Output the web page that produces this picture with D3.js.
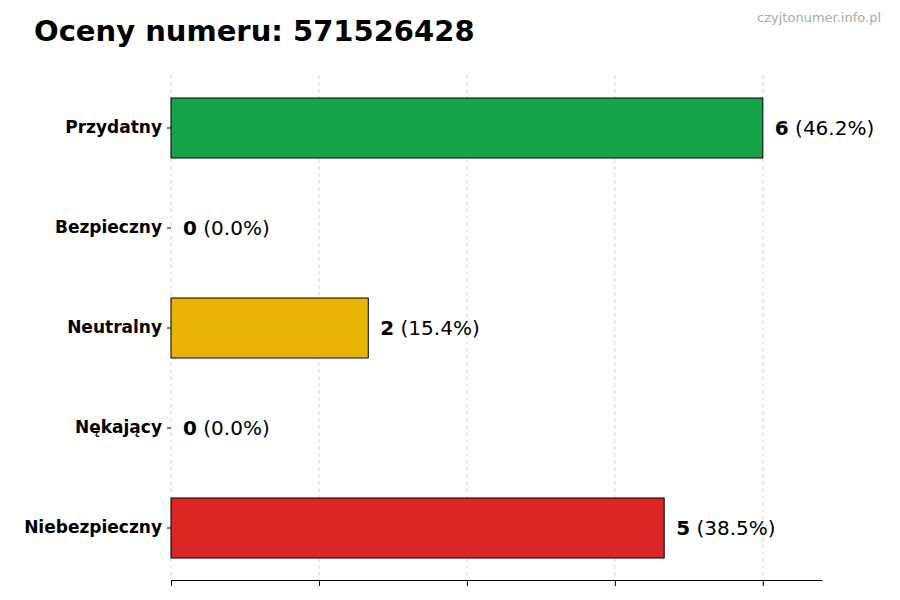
<!DOCTYPE html><html><head><meta charset="utf-8"><script src="https://cdn.jsdelivr.net/npm/d3@7"></script>
<style>body{margin:0;background:#fff}</style></head><body><svg id="c" width="900" height="600"></svg>
<script>
const categories=["Przydatny","Bezpieczny","Neutralny","Nękający","Niebezpieczny"];
const values=[6,0,2,0,5];
const percents=["46.2%","0.0%","15.4%","0.0%","38.5%"];
const colors=["#16a34a","#888888","#eab308","#888888","#dc2626"];
const ticks=[0,1.5,3,4.5,6];
const svg=d3.select("#c");const F="DejaVu Sans, sans-serif";
const x=d3.scaleLinear().domain([0,6.6]).range([171,822]);
const y=d3.scaleBand().domain(categories).range([78,578]).paddingInner(0.4).paddingOuter(0.2);
svg.append("text").attr("x",34).attr("y",41).attr("font-family",F).attr("font-weight","bold").attr("font-size",29).text("Oceny numeru: 571526428");
svg.append("text").attr("x",881).attr("y",22).attr("text-anchor","end").attr("font-family",F).attr("font-size",13).attr("fill","#aaa").text("czyjtonumer.info.pl");
svg.selectAll(".g").data(ticks).enter().append("line").attr("x1",d=>x(d)).attr("x2",d=>x(d)).attr("y1",75).attr("y2",580).attr("stroke","#ccc").attr("stroke-dasharray","4,3").attr("stroke-width",0.8);
svg.selectAll(".b").data(categories).enter().append("rect").attr("x",x(0)).attr("y",d=>y(d)).attr("height",y.bandwidth()).attr("width",(d,i)=>x(values[i])-x(0)).attr("fill",(d,i)=>colors[i]).attr("stroke","#000").attr("stroke-width",1);
const xa=svg.append("g").attr("transform","translate(0,580)").call(d3.axisBottom(x).tickValues(ticks).tickFormat("").tickSizeOuter(0));
xa.select(".domain").attr("stroke","#000");
const ya=svg.append("g").attr("transform","translate(171,0)").call(d3.axisLeft(y).tickSizeOuter(0).tickSize(4));
ya.select(".domain").remove();
ya.selectAll("text").attr("font-family",F).attr("font-weight","bold").attr("font-size",17).attr("fill","#000").attr("dx","-2");
categories.forEach((c,i)=>{const t=svg.append("text").attr("x",x(values[i])+12).attr("y",y(c)+y.bandwidth()/2).attr("dy","0.35em").attr("font-family",F).attr("font-size",20);
t.append("tspan").attr("font-weight","bold").text(values[i]);t.append("tspan").text(" ("+percents[i]+")");});
</script></body></html>
